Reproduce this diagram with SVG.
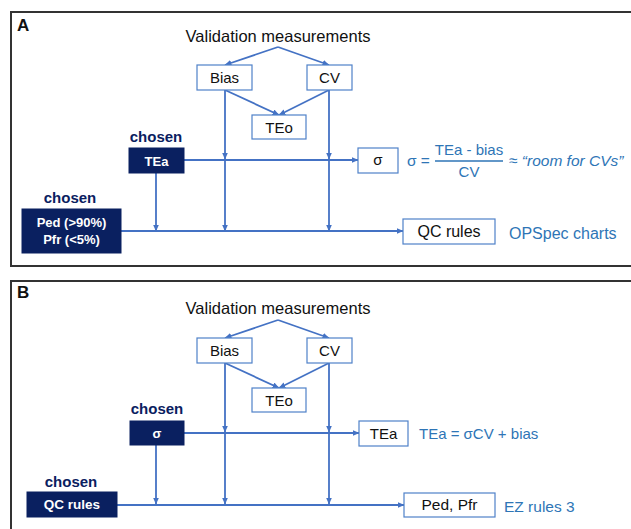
<svg xmlns="http://www.w3.org/2000/svg" width="631" height="529" viewBox="0 0 631 529">
<defs>
<marker id="ah" markerWidth="7" markerHeight="6" refX="6.5" refY="3" orient="auto" markerUnits="userSpaceOnUse">
<path d="M0,0 L7,3 L0,6 z" fill="#4472C4"/>
</marker>
<style>
text{font-family:"Liberation Sans",Arial,sans-serif}
.frame{fill:none;stroke:#333;stroke-width:2}
.box{fill:#fff;stroke:#4f81c9;stroke-width:1.2}
.dark{fill:#0a2060;stroke:#0a2060}
.lbl{fill:#111;font-size:15px;text-anchor:middle}
.wl{fill:#fff;font-size:13px;font-weight:bold;text-anchor:middle}
.chosen{fill:#0a2060;font-size:15px;font-weight:bold;text-anchor:middle}
.blue{fill:#2E75B6;font-size:15.5px}
.title{fill:#111;font-size:16.5px;text-anchor:middle}
.panel{fill:#111;font-size:17px;font-weight:bold}
.c{fill:none;stroke:#4472C4;stroke-width:1.8;marker-end:url(#ah)}
</style>
</defs>
<rect class="frame" x="11" y="12" width="640" height="254"/>
<rect class="frame" x="11" y="281" width="640" height="280"/>
<text class="panel" x="17" y="31">A</text>
<text class="panel" x="17" y="298">B</text>

<g id="connectors">
<path class="c" d="M278,47 L225,65"/>
<path class="c" d="M278,47 L329,65"/>
<path class="c" d="M225,90 L279,115"/>
<path class="c" d="M329,90 L279,115"/>
<path class="c" d="M225,90 L225,159"/>
<path class="c" d="M225,159 L225,231"/>
<path class="c" d="M329,90 L329,159"/>
<path class="c" d="M329,159 L329,231"/>
<path class="c" d="M184,160 L358,160"/>
<path class="c" d="M156,173 L156,231"/>
<path class="c" d="M121,231 L403,231"/>

<path class="c" d="M278,320 L225,338"/>
<path class="c" d="M278,320 L329,338"/>
<path class="c" d="M225,363 L279,388"/>
<path class="c" d="M329,363 L279,388"/>
<path class="c" d="M225,363 L225,432"/>
<path class="c" d="M225,432 L225,504"/>
<path class="c" d="M329,363 L329,432"/>
<path class="c" d="M329,432 L329,504"/>
<path class="c" d="M184,433 L359,433"/>
<path class="c" d="M156,445 L156,504"/>
<path class="c" d="M117,505 L404,505"/>
</g>

<g id="a-validation"><text class="title" x="278" y="42">Validation measurements</text></g>
<g id="a-bias"><rect class="box" x="197" y="65" width="55" height="25"/><text class="lbl" x="224.5" y="83">Bias</text></g>
<g id="a-cv"><rect class="box" x="307" y="65" width="45" height="25"/><text class="lbl" x="329.5" y="83">CV</text></g>
<g id="a-teo"><rect class="box" x="252" y="115" width="54" height="24"/><text class="lbl" x="279" y="132.5">TEo</text></g>
<g id="a-tea"><text class="chosen" x="156" y="142">chosen</text><rect class="dark" x="129" y="148" width="55" height="25"/><text class="wl" x="156.5" y="165.5">TEa</text></g>
<g id="a-ped"><text class="chosen" x="70" y="203">chosen</text><rect class="dark" x="22" y="209" width="99" height="44"/><text class="wl" x="71.5" y="227">Ped (&gt;90%)</text><text class="wl" x="71.5" y="244">Pfr (&lt;5%)</text></g>
<g id="a-sigma"><rect class="box" x="358" y="148" width="40" height="25"/><text class="lbl" x="378" y="165">σ</text></g>
<g id="a-formula">
<text class="blue" x="407" y="166" style="font-size:15.5px">σ =</text>
<text class="blue" x="469" y="155" text-anchor="middle" style="font-size:15px">TEa - bias</text>
<line x1="435" y1="161" x2="503" y2="161" stroke="#2E75B6" stroke-width="1.3"/>
<text class="blue" x="469" y="177" text-anchor="middle" style="font-size:15px">CV</text>
<text class="blue" x="509" y="166" style="font-size:15.5px;font-style:italic">≈ “room for CVs”</text>
</g>
<g id="a-qc"><rect class="box" x="403" y="219" width="92" height="25"/><text class="lbl" x="449" y="237" style="font-size:16px">QC rules</text></g>
<g id="a-opspec"><text class="blue" x="509" y="239" style="font-size:16px">OPSpec charts</text></g>

<g id="b-validation"><text class="title" x="278" y="314">Validation measurements</text></g>
<g id="b-bias"><rect class="box" x="197" y="338" width="55" height="25"/><text class="lbl" x="224.5" y="356">Bias</text></g>
<g id="b-cv"><rect class="box" x="307" y="338" width="45" height="25"/><text class="lbl" x="329.5" y="356">CV</text></g>
<g id="b-teo"><rect class="box" x="252" y="388" width="54" height="24"/><text class="lbl" x="279" y="405.5">TEo</text></g>
<g id="b-sigma"><text class="chosen" x="157" y="414">chosen</text><rect class="dark" x="130" y="421" width="54" height="24"/><text class="wl" x="157" y="438">σ</text></g>
<g id="b-qc"><text class="chosen" x="71" y="487">chosen</text><rect class="dark" x="27" y="492" width="90" height="25"/><text class="wl" x="72" y="509" style="font-size:13.5px">QC rules</text></g>
<g id="b-tea"><rect class="box" x="359" y="421" width="49" height="25"/><text class="lbl" x="383.5" y="439">TEa</text></g>
<g id="b-formula"><text class="blue" x="419" y="439" style="font-size:15px">TEa = σCV + bias</text></g>
<g id="b-ped"><rect class="box" x="404" y="493" width="91" height="24"/><text class="lbl" x="449.5" y="510" style="font-size:15.5px">Ped, Pfr</text></g>
<g id="b-ez"><text class="blue" x="504" y="512">EZ rules 3</text></g>
</svg>
